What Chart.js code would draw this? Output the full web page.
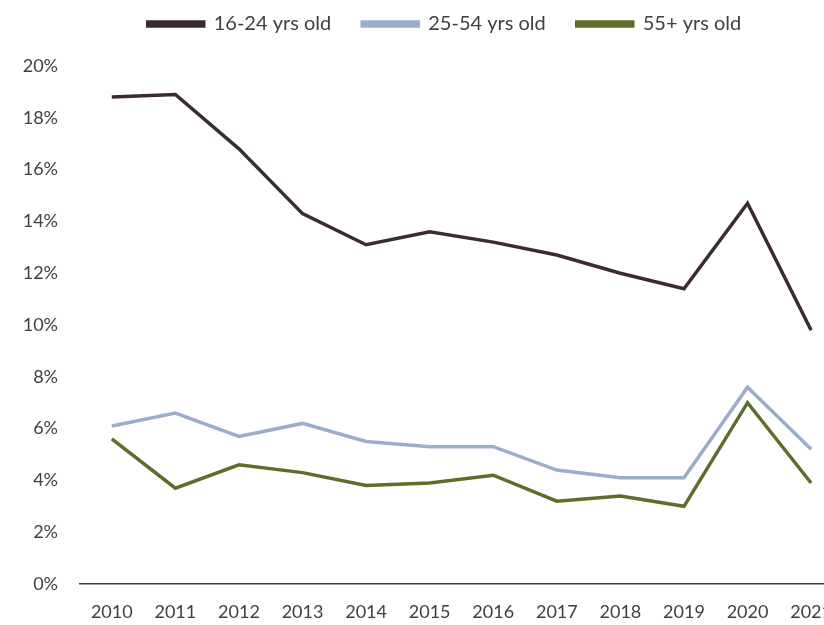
<!DOCTYPE html>
<html>
<head>
<meta charset="utf-8">
<script src="https://cdn.jsdelivr.net/npm/chart.js@4"></script>
<style>
  html, body { margin: 0; padding: 0; background: #fff; overflow: hidden; }
  #wrap { width: 849px; height: 625px; position: relative; }
</style>
</head>
<body>
<div id="wrap"><canvas id="chart"></canvas></div>
<script>
// Unemployment rate by age group, 2010-2021 (percent).
const years = ['2010', '2011', '2012', '2013', '2014', '2015', '2016', '2017', '2018', '2019', '2020', '2021'];
const youth = [18.8, 18.9, 16.8, 14.3, 13.1, 13.6, 13.2, 12.7, 12.0, 11.4, 14.7, 9.8];
const primeAge = [6.1, 6.6, 5.7, 6.2, 5.5, 5.3, 5.3, 4.4, 4.1, 4.1, 7.6, 5.2];
const older = [5.6, 3.7, 4.6, 4.3, 3.8, 3.9, 4.2, 3.2, 3.4, 3.0, 7.0, 3.9];
const yTicks = [0, 2, 4, 6, 8, 10, 12, 14, 16, 18, 20];

const tickFont = { family: 'Lato, "Open Sans", sans-serif', size: 18 };
const legendFont = { family: 'Lato, "Open Sans", sans-serif', size: 20 };
const textColor = '#404040';

const series = (label, data, color) => ({
  label,
  data,
  borderColor: color,
  backgroundColor: color,
  borderWidth: 3.5,
  pointRadius: 0,
  tension: 0,
  fill: false
});

// Extra room under the legend, and centre it over the plot rather than the canvas.
const legendPlacement = {
  id: 'legendPlacement',
  beforeInit(chart) {
    const fit = chart.legend.fit;
    chart.legend.fit = function () {
      fit.call(this);
      this.height += 22;
    };
  },
  afterLayout(chart) {
    chart.legend.left += 20;
    chart.legend.right += 20;
  }
};

new Chart(document.getElementById('chart'), {
  type: 'line',
  data: {
    labels: years,
    datasets: [
      series('16-24 yrs old', youth, '#3d2b33'),
      series('25-54 yrs old', primeAge, '#9aadcb'),
      series('55+ yrs old', older, '#5f6d2b')
    ]
  },
  plugins: [legendPlacement],
  options: {
    responsive: true,
    maintainAspectRatio: false,
    animation: false,
    layout: { padding: { top: -17, left: 0, right: 0, bottom: 0 } },
    plugins: {
      legend: {
        position: 'top',
        labels: {
          color: textColor,
          font: legendFont,
          boxWidth: 56,
          boxHeight: 4,
          padding: 31
        }
      },
      tooltip: { enabled: false }
    },
    scales: {
      x: {
        offset: true,
        grid: { display: false, drawTicks: false },
        border: { display: true, color: '#3a3a3a', width: 1.5 },
        ticks: { color: textColor, font: tickFont, padding: 17, maxRotation: 0, autoSkip: false },
        afterFit: (scale) => { scale.height = 41; }
      },
      y: {
        min: 0,
        max: 20,
        afterBuildTicks: (scale) => { scale.ticks = yTicks.map((v) => ({ value: v })); },
        grid: { display: false, drawTicks: false },
        border: { display: false },
        ticks: {
          color: textColor,
          font: tickFont,
          padding: 22,
          callback: (v) => v + '%'
        },
        afterFit: (scale) => { scale.width = 80; }
      }
    }
  }
});
</script>
</body>
</html>
